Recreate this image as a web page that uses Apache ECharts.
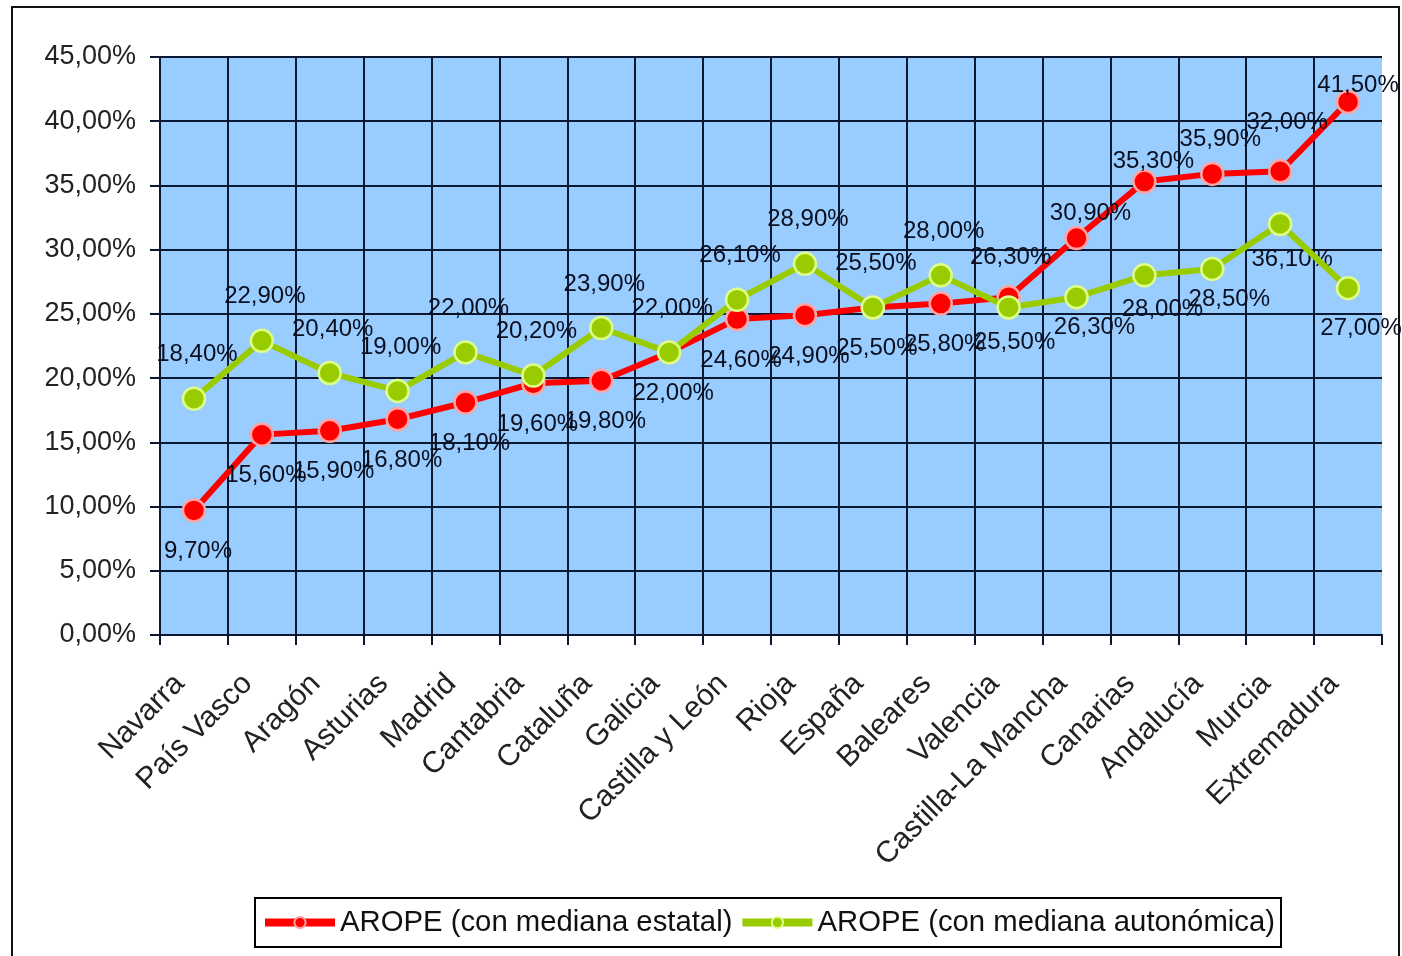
<!DOCTYPE html>
<html>
<head>
<meta charset="utf-8">
<script src="https://cdn.jsdelivr.net/npm/echarts@6/dist/echarts.min.js"></script>
<style>
html,body{margin:0;padding:0;background:#fff;}
#c{width:1402px;height:956px;}
</style>
</head>
<body>
<div id="c"></div>
<script>
// ---- data ----
const categories = ['Navarra','País Vasco','Aragón','Asturias','Madrid','Cantabria','Cataluña','Galicia','Castilla y León','Rioja','España','Baleares','Valencia','Castilla-La Mancha','Canarias','Andalucía','Murcia','Extremadura'];
const aropeEstatal = [9.7,15.6,15.9,16.8,18.1,19.6,19.8,22.0,24.6,24.9,25.5,25.8,26.3,30.9,35.3,35.9,36.1,41.5];
const aropeAutonomica = [18.4,22.9,20.4,19.0,22.0,20.2,23.9,22.0,26.1,28.9,25.5,28.0,25.5,26.3,28.0,28.5,32.0,27.0];
const seriesNames = ['AROPE (con mediana estatal)','AROPE (con mediana autonómica)'];
const yMin = 0, yMax = 45, yStep = 5;

// ---- label placement (layout only) ----
const ABOVE = [3,-44], BELOW = [4,41];
const labelOverrides = {
  'Valencia':           {red:[2,-40],  green:[6,35]},
  'Castilla-La Mancha': {red:[14,-25], green:[18,30]},
  'Canarias':           {red:[9,-20],  green:[18,34]},
  'Andalucía':          {red:[8,-35],  green:[17,30]},
  'Murcia':             {red:[12,88],  green:[7,-102]},
  'Extremadura':        {red:[10,-17], green:[13,40]}
};
function pct(v){ return v.toFixed(2).replace('.',',') + '%'; }

function buildData(values, key){
  return values.map(function(v,i){
    const cat = categories[i];
    let off;
    if (labelOverrides[cat]) off = labelOverrides[cat][key];
    else {
      const redAbove = aropeEstatal[i] > aropeAutonomica[i];
      if (key === 'red') off = redAbove ? ABOVE : BELOW;
      else off = redAbove ? BELOW : ABOVE;
    }
    return {value: v, label: {offset: off}};
  });
}

const GRIDC = '#0c1730';
const font = '"Liberation Sans", Arial, sans-serif';

const chart = echarts.init(document.getElementById('c'));
chart.setOption({
  animation: false,
  backgroundColor: '#ffffff',
  graphic: [{
    type: 'rect', z: -10,
    shape: {x: 12, y: 7, width: 1387, height: 962},
    style: {fill: 'none', stroke: '#111', lineWidth: 2}
  }],
  grid: {
    left: 160, top: 57, width: 1222, bottom: 321,
    show: true, backgroundColor: '#99CCFF', borderWidth: 0
  },
  legend: {
    left: 255, top: 898,
    padding: [10, 6, 10, 6],
    borderColor: '#000', borderWidth: 2,
    itemWidth: 70, itemHeight: 14, itemGap: 6,
    lineStyle: {width: 8},
    textStyle: {fontSize: 29.3, color: '#111', fontFamily: font},
    data: seriesNames
  },
  xAxis: {
    type: 'category',
    data: categories,
    boundaryGap: true,
    axisLine: {show: true, lineStyle: {color: GRIDC, width: 2}},
    axisTick: {show: true, length: 10, lineStyle: {color: GRIDC, width: 2}},
    splitLine: {show: true, showMaxLine: false, lineStyle: {color: GRIDC, width: 2}},
    axisLabel: {
      interval: 0, rotate: 45, margin: 30, padding: [0, 20, 0, 0],
      fontSize: 30, color: '#222', fontFamily: font
    }
  },
  yAxis: {
    type: 'value',
    min: yMin, max: yMax, interval: yStep,
    axisLine: {show: true, lineStyle: {color: GRIDC, width: 2}},
    axisTick: {show: true, length: 10, lineStyle: {color: GRIDC, width: 2}},
    splitLine: {show: true, lineStyle: {color: GRIDC, width: 2}},
    axisLabel: {
      margin: 24, fontSize: 27, color: '#222', fontFamily: font,
      formatter: function(v){ return pct(v); }
    }
  },
  series: [
    {
      name: seriesNames[0], type: 'line',
      data: buildData(aropeEstatal, 'red'),
      symbol: 'circle', symbolSize: 22,
      lineStyle: {color: '#FF0000', width: 6},
      itemStyle: {color: '#FF0000', borderColor: '#FFA3A3', borderWidth: 2.5},
      label: {
        show: true, position: 'inside', align: 'center', verticalAlign: 'middle',
        fontSize: 24, color: '#0a0f20', fontFamily: font,
        formatter: function(p){ return pct(p.value); }
      },
      z: 3
    },
    {
      name: seriesNames[1], type: 'line',
      data: buildData(aropeAutonomica, 'green'),
      symbol: 'circle', symbolSize: 22,
      lineStyle: {color: '#99CC00', width: 6},
      itemStyle: {color: '#99CC00', borderColor: '#DDFF88', borderWidth: 2.5},
      label: {
        show: true, position: 'inside', align: 'center', verticalAlign: 'middle',
        fontSize: 24, color: '#0a0f20', fontFamily: font,
        formatter: function(p){ return pct(p.value); }
      },
      z: 4
    }
  ]
});
</script>
</body>
</html>
